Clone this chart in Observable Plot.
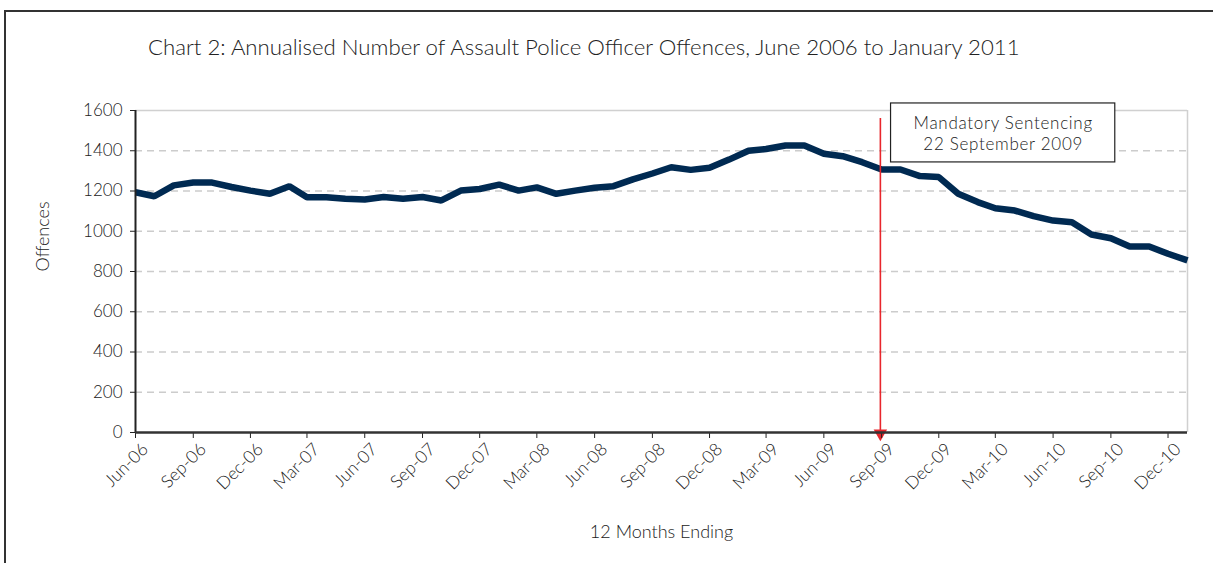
<!DOCTYPE html>
<html><head><meta charset="utf-8">
<script src="https://cdn.jsdelivr.net/npm/d3@7"></script>
<script src="https://cdn.jsdelivr.net/npm/@observablehq/plot@0.6"></script>
<style>
body{margin:0;background:#fff;}
#wrap{position:relative;width:1213px;height:563px;overflow:hidden;font-family:Lato,"Open Sans",sans-serif;}
#frame{position:absolute;left:4px;top:10px;width:1300px;height:700px;border-left:2.5px solid #333;border-top:2.5px solid #333;}
#title{position:absolute;left:148px;top:36px;font-size:22.2px;line-height:1;color:#222;font-weight:300;white-space:nowrap;}
#chart{position:absolute;left:0;top:0;}
#chart svg text{font-weight:300;}
#chart svg .note text{letter-spacing:0.7px;}
</style></head>
<body>
<div id="wrap"><div id="frame"></div><div id="title"></div><div id="chart"></div></div>
<script>
// 12 months ending (monthly), Jun-06 .. Jan-11
const months = [
  "2006-06","2006-07","2006-08","2006-09","2006-10","2006-11","2006-12",
  "2007-01","2007-02","2007-03","2007-04","2007-05","2007-06","2007-07","2007-08","2007-09","2007-10","2007-11","2007-12",
  "2008-01","2008-02","2008-03","2008-04","2008-05","2008-06","2008-07","2008-08","2008-09","2008-10","2008-11","2008-12",
  "2009-01","2009-02","2009-03","2009-04","2009-05","2009-06","2009-07","2009-08","2009-09","2009-10","2009-11","2009-12",
  "2010-01","2010-02","2010-03","2010-04","2010-05","2010-06","2010-07","2010-08","2010-09","2010-10","2010-11","2010-12",
  "2011-01"
];
const offences = [
  1194,1174,1228,1242,1242,1220,1202,
  1186,1224,1169,1169,1161,1158,1170,1161,1170,1153,1202,1210,
  1232,1202,1218,1186,1202,1216,1224,1258,1287,1318,1305,1315,
  1356,1400,1409,1426,1426,1385,1373,1343,1307,1307,1274,1269,
  1186,1145,1114,1103,1075,1053,1045,984,965,924,924,888,
  855
];
const xTickMonths = ["2006-06","2006-09","2006-12","2007-03","2007-06","2007-09","2007-12","2008-03","2008-06","2008-09","2008-12","2009-03","2009-06","2009-09","2009-12","2010-03","2010-06","2010-09","2010-12"];
const yTicks = [0,200,400,600,800,1000,1200,1400,1600];
const annotationLines = ["Mandatory Sentencing","22 September 2009"];
const titleText = "Chart 2: Annualised Number of Assault Police Officer Offences, June 2006 to January 2011";
const yLabel = "Offences";
const xLabel = "12 Months Ending";

document.getElementById("title").textContent = titleText;

const toDate = m => new Date(m + "-01T00:00:00Z");
const data = months.map((m, i) => ({date: toDate(m), value: offences[i]}));
const xStart = data[0].date, xEnd = data[data.length - 1].date;
const tickDates = xTickMonths.map(toDate);
const fmtX = d3.utcFormat("%b-%y");
const arrowDate = new Date("2009-08-30T00:00:00Z");
const boxX1 = new Date("2009-09-16T00:00:00Z"), boxX2 = new Date("2010-09-08T00:00:00Z");
const boxMid = new Date((+boxX1 + +boxX2) / 2);
const red = "#e8262c";
const ink = "#222";

const chart = Plot.plot({
  width: 1213, height: 563,
  marginLeft: 135, marginRight: 26, marginTop: 110, marginBottom: 131,
  style: {background: "transparent", fontFamily: "Lato, 'Open Sans', sans-serif", fontSize: "17px", color: ink},
  x: {type: "utc", domain: [xStart, xEnd]},
  y: {domain: [0, 1600]},
  marks: [
    Plot.ruleY(yTicks.filter(v => v > 0 && v < 1600), {stroke: "#cccccc", strokeWidth: 1.5, strokeDasharray: "7,5"}),
    Plot.ruleY([1600], {stroke: "#d0d0d0", strokeWidth: 1.5}),
    Plot.ruleX([xEnd], {stroke: "#d0d0d0", strokeWidth: 1.5}),
    Plot.line(data, {x: "date", y: "value", stroke: "#002a52", strokeWidth: 6.5, strokeLinejoin: "miter", strokeLinecap: "butt"}),
    Plot.ruleX([{x: arrowDate, y1: 1560, y2: 0}], {x: "x", y1: "y1", y2: "y2", stroke: red, strokeWidth: 1.6}),
    Plot.dot([{x: arrowDate, y: 0}], {x: "x", y: "y", symbol: "triangle", r: 5, fill: red, stroke: "none", rotate: 180, dy: 1}),
    Plot.rect([{x1: boxX1, x2: boxX2, y1: 1342, y2: 1635}], {x1: "x1", x2: "x2", y1: "y1", y2: "y2", fill: "white", stroke: "#222", strokeWidth: 1.2}),
    Plot.text([{x: boxMid, y: 1485, t: annotationLines[0]}], {x: "x", y: "y", text: "t", fontSize: 17, dy: -10.5, fill: ink, className: "note"}),
    Plot.text([{x: boxMid, y: 1485, t: annotationLines[1]}], {x: "x", y: "y", text: "t", fontSize: 17, dy: 10.5, fill: ink, className: "note"}),
    Plot.axisY({ticks: yTicks, tickFormat: d3.format("d"), tickSize: 5, tickPadding: 8, label: null, fontSize: 17, stroke: "#222", fill: ink}),
    Plot.axisX({ticks: tickDates, tickFormat: () => "", tickSize: 6, label: null, stroke: "#222"}),
    Plot.text(tickDates, {x: d => d, frameAnchor: "bottom", text: d => fmtX(d), rotate: -45, textAnchor: "end", lineAnchor: "top", dx: 5, dy: 9, fontSize: 17.5, fill: ink}),
    Plot.ruleX([xStart], {stroke: "#222", strokeWidth: 2}),
    Plot.ruleY([0], {stroke: "#333", strokeWidth: 2.5}),
    Plot.text([yLabel], {frameAnchor: "left", dx: -92, rotate: -90, fontSize: 18, fill: ink}),
    Plot.text([xLabel], {frameAnchor: "bottom", dy: 105, fontSize: 18, fill: ink})
  ]
});
document.getElementById("chart").appendChild(chart);
</script>
</body></html>
